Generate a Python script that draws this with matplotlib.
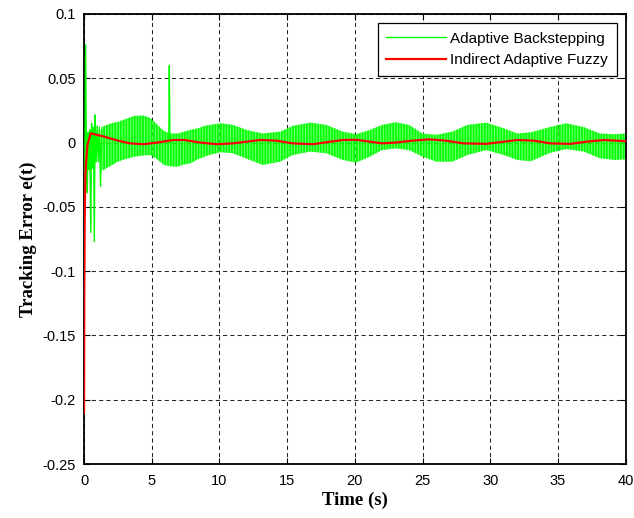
import numpy as np
import matplotlib
matplotlib.use('Agg')
import matplotlib.pyplot as plt

# Adaptive Backstepping : transitoire initial
bs_start_t = [0.00, 0.03, 0.06, 0.12, 0.18, 0.24, 0.30, 0.36, 0.42, 0.50, 0.56, 0.62,
              0.70, 0.76, 0.82, 0.90, 0.98, 1.06, 1.14, 1.22, 1.30]
bs_start_e = [-0.078, -0.040, -0.020, 0.076, -0.010, -0.039, 0.008, -0.021, 0.010, -0.070,
              0.015, -0.020, 0.012, -0.077, 0.0215, -0.015, 0.013, -0.015, 0.012, -0.034, 0.010]

# pic isolé vers t = 6.3 s
bs_spike_t = [6.26, 6.30, 6.34]
bs_spike_e = [0.000, 0.060, 0.000]

# enveloppe de l'oscillation rapide (haut / bas)
bs_env_t = [1.3, 2.0, 2.5, 3.0, 3.7, 4.4, 4.9, 5.4, 5.9, 6.4, 6.9, 7.4, 7.9, 8.4, 8.9, 9.3,
            10.1, 11.0, 12.0, 13.2, 14.5, 15.4, 16.7, 17.9, 19.1, 20.1, 21.1, 22.0, 23.0,
            24.0, 25.0, 26.0, 27.2, 28.3, 29.7, 31.0, 32.0, 33.0, 34.4, 35.6, 36.9, 38.1,
            39.2, 40.0]
bs_env_up = [0.012, 0.015, 0.016, 0.018, 0.0207, 0.021, 0.019, 0.014, 0.009, 0.007, 0.007,
             0.0085, 0.010, 0.011, 0.013, 0.0137, 0.015, 0.0137, 0.0098, 0.007, 0.0085,
             0.0129, 0.0155, 0.0137, 0.0085, 0.0065, 0.0098, 0.0137, 0.0158, 0.0137, 0.007,
             0.006, 0.0085, 0.0137, 0.0155, 0.011, 0.007, 0.008, 0.012, 0.015, 0.012, 0.007,
             0.0065, 0.007]
bs_env_low = [-0.022, -0.018, -0.0148, -0.013, -0.011, -0.010, -0.0097, -0.013, -0.0174,
              -0.0185, -0.0187, -0.017, -0.016, -0.013, -0.011, -0.0095, -0.0075, -0.0083,
              -0.0125, -0.0174, -0.0148, -0.0097, -0.007, -0.0083, -0.0135, -0.0155, -0.011,
              -0.0058, -0.0045, -0.0058, -0.011, -0.0148, -0.0148, -0.0097, -0.0058, -0.0097,
              -0.0135, -0.0145, -0.008, -0.005, -0.007, -0.0122, -0.0135, -0.013]

# Indirect Adaptive Fuzzy
fz_t = [0, 0.02, 0.05, 0.10, 0.15, 0.25, 0.50, 1.5, 2.5, 3.4, 4.4, 5.4, 6.6, 7.4, 8.6, 9.8,
        11.0, 12.0, 13.0, 14.2, 15.4, 16.9, 18.2, 19.1, 20.1, 21.1, 22.0, 23.0, 24.25, 25.5,
        26.7, 28.0, 29.7, 31.0, 32.0, 33.2, 34.4, 35.9, 37.1, 38.4, 39.8, 40.0]
fz_e = [-0.21, -0.12, -0.06, -0.025, -0.016, -0.002, 0.0072, 0.0046, 0.0015, -0.0006, -0.0013,
        0.0, 0.002, 0.002, 0.0, -0.0013, -0.0006, 0.0007, 0.002, 0.0015, -0.0006, -0.0013,
        0.0007, 0.002, 0.0022, 0.0007, -0.0006, 0.0, 0.0015, 0.0025, 0.0015, -0.0006, -0.001,
        0.0007, 0.002, 0.0015, -0.0006, -0.001, 0.0007, 0.002, 0.0012, 0.001]

x_ticks = [0, 5, 10, 15, 20, 25, 30, 35, 40]
y_ticks = [-0.25, -0.2, -0.15, -0.1, -0.05, 0, 0.05, 0.1]
y_tick_labels = ['-0.25', '-0.2', '-0.15', '-0.1', '-0.05', '0', '0.05', '0.1']

green = '#00ff00'
red = '#ff0000'
plt.rcParams['font.family'] = 'Liberation Sans'
plt.rcParams['hatch.linewidth'] = 1.2

fig = plt.figure(figsize=(6.34, 5.18), dpi=100)
ax = fig.add_axes([0.1325, 0.1042, 0.8545, 0.8688])

ax.fill_between(bs_env_t, bs_env_low, bs_env_up, facecolor=(0.2, 1, 0.2, 0.72),
                edgecolor=green, hatch='||||||', linewidth=0, zorder=2)
ax.plot(bs_start_t, bs_start_e, color=green, lw=1.0, zorder=3, label='Adaptive Backstepping')
ax.plot(bs_spike_t, bs_spike_e, color=green, lw=1.0, zorder=3)
ax.plot(fz_t, fz_e, color=red, lw=1.6, zorder=4, label='Indirect Adaptive Fuzzy')

ax.set_xlim(0, 40)
ax.set_ylim(-0.25, 0.1)
ax.set_xticks(x_ticks)
ax.set_xticklabels([str(v) for v in x_ticks])
ax.set_yticks(y_ticks)
ax.set_yticklabels(y_tick_labels)
ax.tick_params(direction='in', labelsize=10.5, length=4, width=0.8, top=True, right=True)
ax.tick_params(axis='x', pad=7)
ax.tick_params(axis='y', pad=6)
ax.grid(True, color='black', linestyle=(0, (4, 3)), linewidth=0.75, alpha=0.85)
for s in ax.spines.values():
    s.set_linewidth(1.3)

ax.set_xlabel('Time (s)', family='Liberation Serif', fontweight='bold', fontsize=13.5, labelpad=3)
ax.set_ylabel('Tracking Error e(t)', family='Liberation Serif', fontweight='bold', fontsize=13.5,
              labelpad=4)

leg = ax.legend(loc='upper right', fontsize=11, fancybox=False, framealpha=1,
                edgecolor='black', handlelength=3.9, handletextpad=0.3, labelspacing=0.5,
                borderpad=0.55, borderaxespad=0.6)
leg.get_frame().set_linewidth(0.9)

fig.savefig('out.png', dpi=100)
